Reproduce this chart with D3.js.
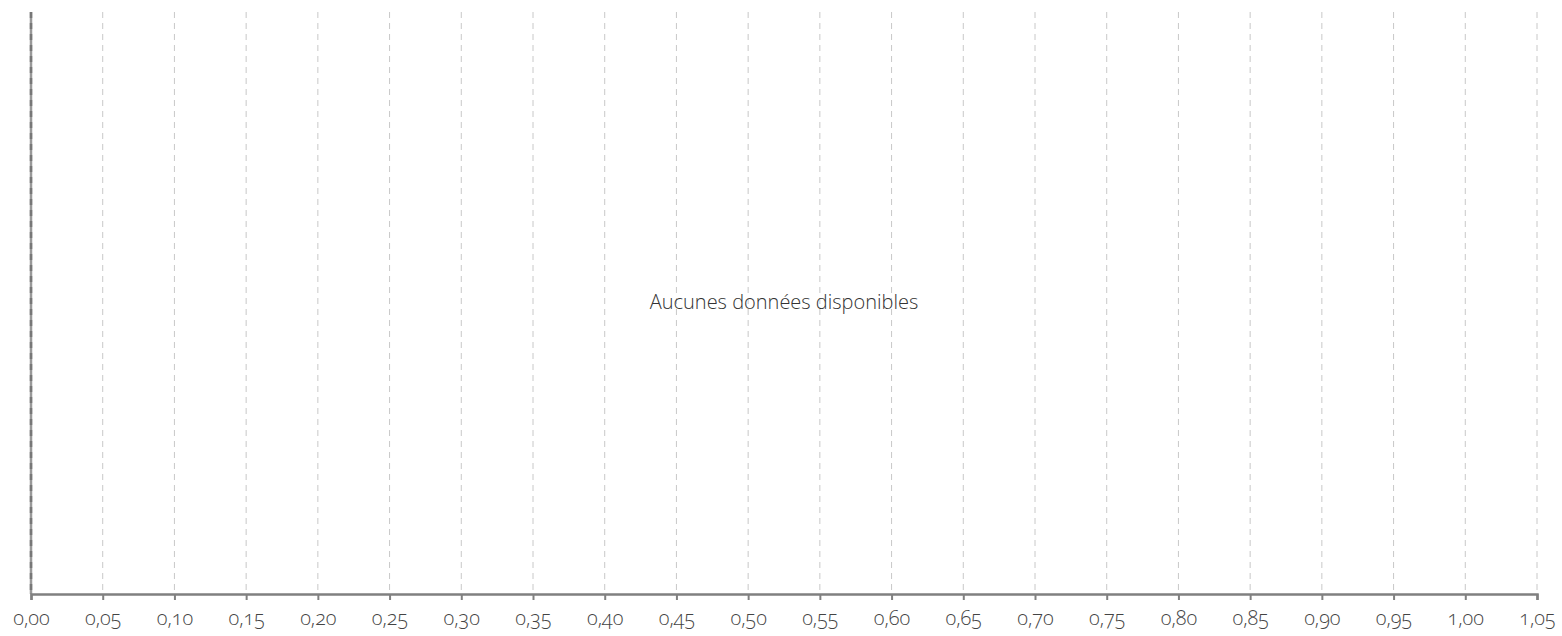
<!DOCTYPE html>
<html lang="fr">
<head>
<meta charset="utf-8">
<title>Aucunes données disponibles</title>
<script src="https://cdn.jsdelivr.net/npm/d3@7"></script>
<style>
  html, body { margin: 0; padding: 0; background: #fff; }
  svg { display: block; }
  text { font-family: "Open Sans", Lato, sans-serif; font-weight: 300; font-variant-numeric: oldstyle-nums; }
</style>
</head>
<body>
<div id="chart"></div>
<script>
  const width = 1562, height = 636;

  // x axis: 0 to 1,05 by steps of 0,05
  const xDomain = [0, 1.05];
  const xTicks = d3.range(0, 22).map(i => +(i * 0.05).toFixed(2));
  const noDataText = "Aucunes données disponibles";

  const margin = {top: 12, right: 25, bottom: 42, left: 31};

  const x = d3.scaleLinear()
    .domain(xDomain)
    .range([margin.left, width - margin.right]);

  const fmt = d3.formatLocale({decimal: ",", thousands: " ", grouping: [3], currency: ["", " €"]}).format(".2f");

  const svg = d3.select("#chart").append("svg")
    .attr("width", width)
    .attr("height", height);

  // dashed vertical grid
  svg.append("g")
    .selectAll("line")
    .data(xTicks)
    .join("line")
    .attr("x1", d => x(d)).attr("x2", d => x(d))
    .attr("y1", margin.top).attr("y2", height - margin.bottom)
    .attr("stroke", "#c8c8c8")
    .attr("stroke-width", 1)
    .attr("stroke-dasharray", "6,5");

  // left axis line
  svg.append("line")
    .attr("x1", x(0)).attr("x2", x(0))
    .attr("y1", margin.top).attr("y2", height - margin.bottom)
    .attr("stroke", "#999")
    .attr("stroke-width", 2.5);
  svg.append("line")
    .attr("x1", x(0)).attr("x2", x(0))
    .attr("y1", margin.top).attr("y2", height - margin.bottom)
    .attr("stroke", "#777")
    .attr("stroke-width", 2.5)
    .attr("stroke-dasharray", "6,5");

  // bottom axis
  const xAxis = d3.axisBottom(x)
    .tickValues(xTicks)
    .tickFormat(fmt)
    .tickSizeOuter(0)
    .tickSize(6)
    .tickPadding(11);

  const gx = svg.append("g")
    .attr("transform", `translate(0,${height - margin.bottom})`)
    .call(xAxis);

  gx.select(".domain").attr("stroke", "#808080").attr("stroke-width", 2.5);
  gx.selectAll(".tick line").attr("stroke", "#808080").attr("stroke-width", 2);
  gx.selectAll(".tick text")
    .attr("font-family", null)
    .attr("fill", "#444")
    .attr("font-size", 20);

  // no data message
  svg.append("text")
    .attr("x", (x(xDomain[0]) + x(xDomain[1])) / 2)
    .attr("y", 309)
    .attr("text-anchor", "middle")
    .attr("font-size", 20)
    .attr("fill", "#333")
    .text(noDataText);
</script>
</body>
</html>
